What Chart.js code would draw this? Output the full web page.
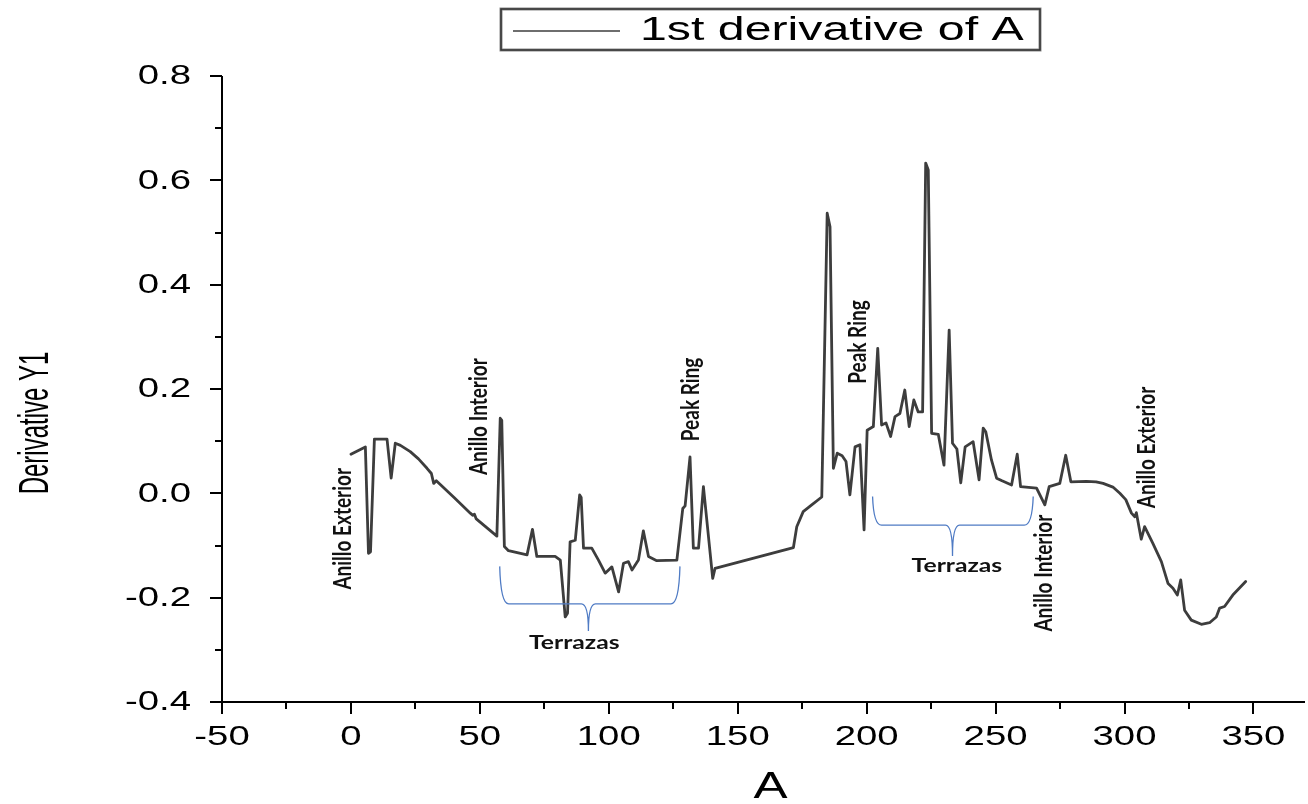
<!DOCTYPE html>
<html>
<head>
<meta charset="utf-8">
<title>1st derivative of A</title>
<script src="https://cdn.jsdelivr.net/npm/chart.js@4.4.1/dist/chart.umd.min.js"></script>
<style>
  html, body { margin: 0; padding: 0; background: #ffffff; }
  #wrap { width: 1308px; height: 804px; }
</style>
</head>
<body>
<div id="wrap"><canvas id="chart" width="1308" height="804"></canvas></div>
<script>
// ---- series ----
const seriesLabel = '1st derivative of A';

const aValues = [
  0, 5.6, 6.8, 7.6, 9.1, 14.0, 15.6, 17.2, 19.2, 23.0, 26.2, 29.5,
  31.2, 32.1, 33.1, 40.0, 46.3, 47.2, 47.9, 48.6, 56.6, 57.9,
  58.5, 59.5, 61.1, 68.3, 70.4, 72.1, 79.2, 81.2, 83.1, 84.0,
  85.0, 87.0, 88.7, 89.3, 90.2, 93.4, 96.0, 98.6, 101.2, 103.8,
  105.7, 107.6, 109.0, 111.5, 113.4, 115.4, 118.6, 126.4, 128.7, 129.6,
  131.5, 132.8, 134.8, 136.7, 140.3, 141.2, 171.6, 172.9, 175.4, 178.7,
  182.6, 184.7, 185.8, 187.1, 188.6, 190.5, 192.0, 193.5, 195.5, 197.4,
  199.0, 200.2, 202.6, 204.3, 205.8, 207.5, 209.3, 211.0, 212.9, 214.8,
  216.5, 218.3, 220.0, 221.7, 222.9, 223.9, 225.2, 227.8, 230.0, 232.0,
  233.3, 235.0, 236.5, 238.2, 241.3, 243.6, 245.2, 246.2, 248.4, 250.4,
  252.5, 256.2, 258.4, 259.7, 265.9, 269.1, 270.8, 274.9, 277.2, 279.2,
  285.2, 289.0, 291.7, 295.5, 298.2, 300.5, 302.7, 304.0, 304.6, 306.5, 307.8,
  311.0, 314.3, 316.9, 318.8, 320.5, 321.8, 323.3, 325.9, 329.8, 333.0,
  335.6, 336.9, 338.8, 342.0, 347.0
];

const derivValues = [
  0.075, 0.089, -0.115, -0.112, 0.104, 0.104, 0.029, 0.096, 0.092, 0.080, 0.066, 0.048,
  0.038, 0.019, 0.024, -0.008, -0.038, -0.042, -0.040, -0.049, -0.082, 0.144,
  0.140, -0.102, -0.110, -0.118, -0.069, -0.121, -0.121, -0.128, -0.237, -0.230,
  -0.093, -0.090, -0.003, -0.008, -0.105, -0.105, -0.128, -0.153, -0.141, -0.189,
  -0.134, -0.131, -0.147, -0.128, -0.072, -0.121, -0.129, -0.128, -0.029, -0.024,
  0.070, -0.105, -0.105, 0.013, -0.163, -0.144, -0.104, -0.064, -0.035, -0.022,
  -0.007, 0.537, 0.511, 0.048, 0.077, 0.072, 0.061, -0.003, 0.089, 0.093,
  -0.070, 0.121, 0.128, 0.278, 0.131, 0.135, 0.109, 0.147, 0.153, 0.198,
  0.128, 0.179, 0.156, 0.156, 0.633, 0.620, 0.115, 0.113, 0.054, 0.313,
  0.096, 0.085, 0.020, 0.089, 0.099, 0.026, 0.125, 0.118, 0.064, 0.029,
  0.024, 0.016, 0.075, 0.013, 0.010, -0.022, 0.013, 0.019, 0.073, 0.022,
  0.023, 0.022, 0.019, 0.012, 0.000, -0.012, -0.038, -0.045, -0.037, -0.088, -0.064,
  -0.096, -0.131, -0.173, -0.182, -0.195, -0.166, -0.224, -0.243, -0.251, -0.248,
  -0.237, -0.220, -0.217, -0.195, -0.169
];

// ---- axes ----
const xTitle = 'A';
const yTitle = 'Derivative Y1';
const xMajorTicks = [-50, 0, 50, 100, 150, 200, 250, 300, 350];
const xMinorTicks = [-25, 25, 75, 125, 175, 225, 275, 325];
const yMajorTicks = [0.8, 0.6, 0.4, 0.2, 0.0, -0.2, -0.4];
const yMinorTicks = [0.7, 0.5, 0.3, 0.1, -0.1, -0.3];

// ---- region labels (anchored in data units) ----
const labelTexts = ['Anillo Exterior', 'Anillo Interior', 'Peak Ring', 'Peak Ring', 'Anillo Interior', 'Anillo Exterior', 'Terrazas', 'Terrazas'];
const labelA     = [-3.1, 49.8, 131.9, 196.6, 268.7, 308.8, 86.6, 235.0];
const labelD     = [-0.068, 0.147, 0.180, 0.290, -0.153, 0.088, -0.286, -0.139];
const labelVertical = [true, true, true, true, true, true, false, false];

// braces: start A, end A, tip A, top D, bar D, tip D
const braceStartA = [57.7, 202.3];
const braceEndA   = [127.6, 264.6];
const braceTipA   = [92.1, 233.3];
const braceTopD   = [-0.140, -0.006];
const braceBarD   = [-0.212, -0.061];
const braceTipD   = [-0.264, -0.120];

const points = aValues.map((a, i) => ({ x: a, y: derivValues[i] }));

const TEXT_STRETCH = 1.42;
const NOTE_STRETCH = 1.3;

function drawText(ctx, text, x, y, opt) {
  ctx.save();
  ctx.translate(x, y);
  ctx.scale(opt.sx || 1, 1);
  if (opt.vertical) ctx.rotate(-Math.PI / 2);
  ctx.font = opt.font;
  ctx.fillStyle = opt.color || '#000';
  ctx.textAlign = opt.align || 'center';
  ctx.textBaseline = opt.baseline || 'middle';
  ctx.fillText(text, 0, 0);
  ctx.restore();
}

const axesPlugin = {
  id: 'originAxes',
  afterDraw(chart) {
    const ctx = chart.ctx;
    const xs = chart.scales.x, ys = chart.scales.y;
    const area = chart.chartArea;
    ctx.save();
    ctx.strokeStyle = '#000';
    ctx.lineWidth = 2;
    ctx.lineCap = 'butt';

    // axis lines
    ctx.beginPath();
    ctx.moveTo(area.left, area.top);
    ctx.lineTo(area.left, area.bottom);
    ctx.moveTo(area.left, area.bottom);
    ctx.lineTo(area.right, area.bottom);
    ctx.stroke();

    // x ticks
    ctx.beginPath();
    xMajorTicks.forEach(v => {
      const p = Math.round(xs.getPixelForValue(v));
      ctx.moveTo(p, area.bottom); ctx.lineTo(p, area.bottom + 12);
    });
    xMinorTicks.forEach(v => {
      const p = Math.round(xs.getPixelForValue(v));
      ctx.moveTo(p, area.bottom); ctx.lineTo(p, area.bottom + 7);
    });
    // y ticks
    yMajorTicks.forEach(v => {
      const p = Math.round(ys.getPixelForValue(v));
      ctx.moveTo(area.left, p); ctx.lineTo(area.left - 12, p);
    });
    yMinorTicks.forEach(v => {
      const p = Math.round(ys.getPixelForValue(v));
      ctx.moveTo(area.left, p); ctx.lineTo(area.left - 7, p);
    });
    ctx.stroke();

    const tickFont = '27px "Liberation Sans", Arial, sans-serif';
    xMajorTicks.forEach(v => {
      drawText(ctx, String(v), xs.getPixelForValue(v), area.bottom + 36,
        { font: tickFont, sx: TEXT_STRETCH, align: 'center', baseline: 'middle' });
    });
    yMajorTicks.forEach(v => {
      drawText(ctx, v.toFixed(1), area.left - 31, ys.getPixelForValue(v) + 1,
        { font: tickFont, sx: TEXT_STRETCH, align: 'right', baseline: 'middle' });
    });

    // axis titles
    drawText(ctx, xTitle, (area.left + area.right) / 2 + 7, 788,
      { font: '36px "Liberation Sans", Arial, sans-serif', sx: TEXT_STRETCH });
    drawText(ctx, yTitle, 36, 423,
      { font: '24px "Liberation Sans", Arial, sans-serif', sx: 1.8, vertical: true });

    // region labels
    labelTexts.forEach((t, i) => {
      drawText(ctx, t, xs.getPixelForValue(labelA[i]), ys.getPixelForValue(labelD[i]),
        { font: 'bold 19px Lato, "Open Sans", sans-serif', sx: NOTE_STRETCH,
          vertical: labelVertical[i], color: '#111' });
    });

    // curly braces under the terrace zones
    ctx.strokeStyle = '#4f7bc4';
    ctx.lineWidth = 1.3;
    braceStartA.forEach((a0, i) => {
      const x0 = xs.getPixelForValue(a0), x1 = xs.getPixelForValue(braceEndA[i]);
      const xt = xs.getPixelForValue(braceTipA[i]);
      const yTop = ys.getPixelForValue(braceTopD[i]);
      const yBar = ys.getPixelForValue(braceBarD[i]);
      const yTip = ys.getPixelForValue(braceTipD[i]);
      ctx.beginPath();
      ctx.moveTo(x0, yTop);
      ctx.quadraticCurveTo(x0 + 1, yBar, x0 + 9, yBar);
      ctx.lineTo(xt - 7, yBar);
      ctx.quadraticCurveTo(xt, yBar, xt, yTip);
      ctx.quadraticCurveTo(xt, yBar, xt + 7, yBar);
      ctx.lineTo(x1 - 9, yBar);
      ctx.quadraticCurveTo(x1 - 1, yBar, x1, yTop);
      ctx.stroke();
    });

    // legend box
    ctx.strokeStyle = '#8a8a8a';
    ctx.lineWidth = 3;
    ctx.strokeRect(501, 9, 539, 41);
    ctx.strokeStyle = '#333';
    ctx.lineWidth = 1.5;
    ctx.strokeRect(501, 9, 539, 41);
    ctx.strokeStyle = '#6e6e6e';
    ctx.lineWidth = 2;
    ctx.beginPath();
    ctx.moveTo(513, 31); ctx.lineTo(620, 31);
    ctx.stroke();
    drawText(ctx, seriesLabel, 640, 31,
      { font: '34px "Liberation Sans", Arial, sans-serif', sx: TEXT_STRETCH, align: 'left', baseline: 'middle' });

    ctx.restore();
  }
};

new Chart(document.getElementById('chart'), {
  type: 'scatter',
  data: {
    datasets: [{
      label: seriesLabel,
      data: points,
      showLine: true,
      borderColor: '#3d3d3d',
      borderWidth: 2.8,
      pointRadius: 0,
      tension: 0,
      borderJoinStyle: 'round',
      borderCapStyle: 'round',
      fill: false
    }]
  },
  options: {
    responsive: false,
    animation: false,
    devicePixelRatio: 1,
    layout: { padding: { left: 222, right: 3, top: 76, bottom: 102 } },
    scales: {
      x: { type: 'linear', min: -50, max: 370, display: false },
      y: { type: 'linear', min: -0.4, max: 0.8, display: false }
    },
    plugins: { legend: { display: false }, tooltip: { enabled: false } }
  },
  plugins: [axesPlugin]
});
</script>
</body>
</html>
